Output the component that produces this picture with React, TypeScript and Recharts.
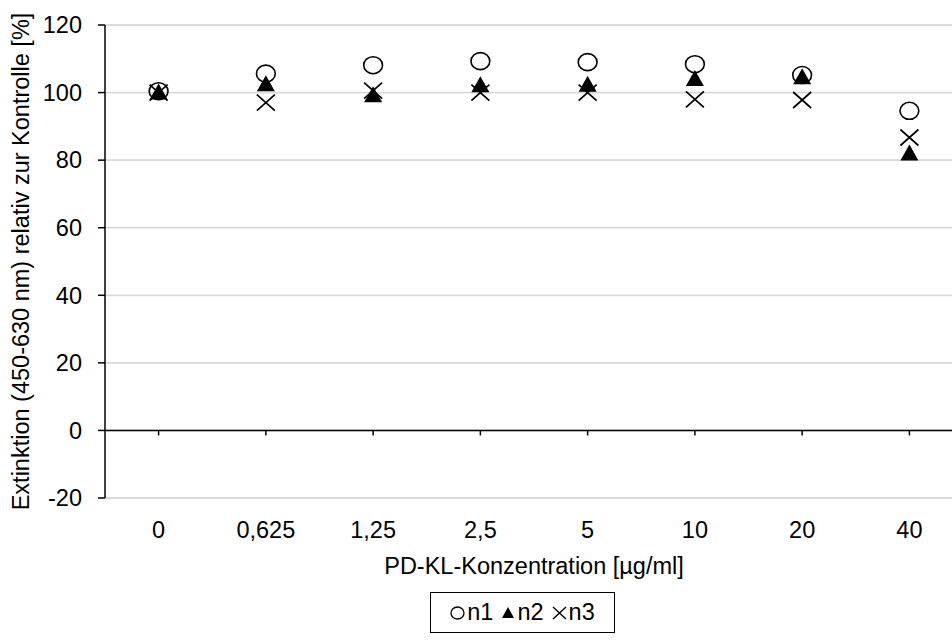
import {
  ComposedChart,
  Scatter,
  XAxis,
  YAxis,
  CartesianGrid,
  ReferenceLine,
  Legend,
} from 'recharts';

const categories = ['0', '0,625', '1,25', '2,5', '5', '10', '20', '40'];
const n1 = [100.4, 105.6, 108.1, 109.3, 109, 108.4, 105.2, 94.6];
const n2 = [100, 102.5, 99.2, 102.2, 102.3, 104, 104.5, 82];
const n3 = [100, 97, 100.6, 100, 100, 98, 97.8, 86.7];
const yTicks = [-20, 0, 20, 40, 60, 80, 100, 120];

const FONT = '"Liberation Sans", Arial, sans-serif';
const FS = 23.5;

const data = categories.map((c, i) => ({
  conc: c,
  n1: n1[i],
  n2: n2[i],
  n3: n3[i],
  zero: 0,
}));

const CircleMark = (p: any) => (
  <ellipse cx={p.cx} cy={p.cy} rx={9.4} ry={8.5} fill="none" stroke="#000" strokeWidth={1.6} />
);

const TriangleMark = (p: any) => (
  <path
    d={`M${p.cx},${p.cy - 9} L${p.cx + 9},${p.cy + 7} L${p.cx - 9},${p.cy + 7} Z`}
    fill="#000"
  />
);

const CrossMark = (p: any) => (
  <path
    d={`M${p.cx - 9},${p.cy - 8} L${p.cx + 9},${p.cy + 8} M${p.cx - 9},${p.cy + 8} L${p.cx + 9},${p.cy - 8}`}
    stroke="#000"
    strokeWidth={1.7}
    fill="none"
  />
);

// small tick marks hanging below the zero line
const ZeroTick = (p: any) => (
  <line x1={p.cx} x2={p.cx} y1={p.cy} y2={p.cy + 5} stroke="#000" strokeWidth={1.5} />
);

const LegendBox = () => (
  <div
    style={{
      display: 'flex',
      alignItems: 'center',
      justifyContent: 'center',
      gap: 8,
      border: '1.5px solid #000',
      height: 39,
      width: 183,
      fontFamily: FONT,
      fontSize: FS,
      color: '#000',
      background: '#fff',
    }}
  >
    <span style={{ display: 'flex', alignItems: 'center', gap: 2 }}>
      <svg width={15} height={14}>
        <ellipse cx={7.5} cy={7} rx={6.5} ry={6} fill="none" stroke="#000" strokeWidth={1.3} />
      </svg>
      n1
    </span>
    <span style={{ display: 'flex', alignItems: 'center', gap: 2 }}>
      <svg width={14} height={14}>
        <path d="M7,1 L13,12 L1,12 Z" fill="#000" />
      </svg>
      n2
    </span>
    <span style={{ display: 'flex', alignItems: 'center', gap: 2 }}>
      <svg width={15} height={14}>
        <path d="M1,1 L14,13 M1,13 L14,1" stroke="#000" strokeWidth={1.4} />
      </svg>
      n3
    </span>
  </div>
);

const YLabel = ({ viewBox }: any) => {
  const cy = viewBox.y + viewBox.height / 2;
  return (
    <text
      x={21}
      y={cy}
      transform={`rotate(-90, 21, ${cy})`}
      textAnchor="middle"
      dominantBaseline="central"
      fontFamily={FONT}
      fontSize={FS}
      fill="#000"
    >
      Extinktion (450-630 nm) relativ zur Kontrolle [%]
    </text>
  );
};

export default function App() {
  return (
    <div
      style={{
        position: 'absolute',
        left: 0,
        top: 0,
        width: 952,
        height: 642,
        overflow: 'hidden',
        background: '#fff',
      }}
    >
      <ComposedChart
        width={970}
        height={642}
        data={data}
        margin={{ top: 25, right: 7, bottom: 9, left: 0 }}
      >
        <CartesianGrid vertical={false} stroke="#d9d9d9" strokeWidth={1.8} />
        <XAxis
          dataKey="conc"
          type="category"
          padding={{ left: 53.6, right: 53.6 }}
          axisLine={false}
          tickLine={false}
          tickSize={0}
          tickMargin={23}
          height={94}
          interval={0}
          tick={{ fill: '#000', fontSize: FS, fontFamily: FONT }}
          label={{
            value: 'PD-KL-Konzentration [µg/ml]',
            position: 'insideBottom',
            offset: 18,
            fill: '#000',
            fontSize: FS,
            fontFamily: FONT,
          }}
        />
        <YAxis
          domain={[-20, 120]}
          ticks={yTicks}
          width={105}
          axisLine={{ stroke: '#000', strokeWidth: 1.5 }}
          tickLine={{ stroke: '#000', strokeWidth: 1.5 }}
          tickSize={7}
          tickMargin={16}
          tick={{ fill: '#000', fontSize: FS, fontFamily: FONT }}
          label={<YLabel />}
        />
        <ReferenceLine y={0} stroke="#000" strokeWidth={1.5} />
        <Scatter dataKey="zero" shape={ZeroTick} legendType="none" isAnimationActive={false} />
        <Scatter dataKey="n1" name="n1" shape={CircleMark} isAnimationActive={false} />
        <Scatter dataKey="n2" name="n2" shape={TriangleMark} isAnimationActive={false} />
        <Scatter dataKey="n3" name="n3" shape={CrossMark} isAnimationActive={false} />
        <Legend
          verticalAlign="bottom"
          content={<LegendBox />}
          wrapperStyle={{ left: 430, bottom: 9, width: 186 }}
        />
      </ComposedChart>
    </div>
  );
}
